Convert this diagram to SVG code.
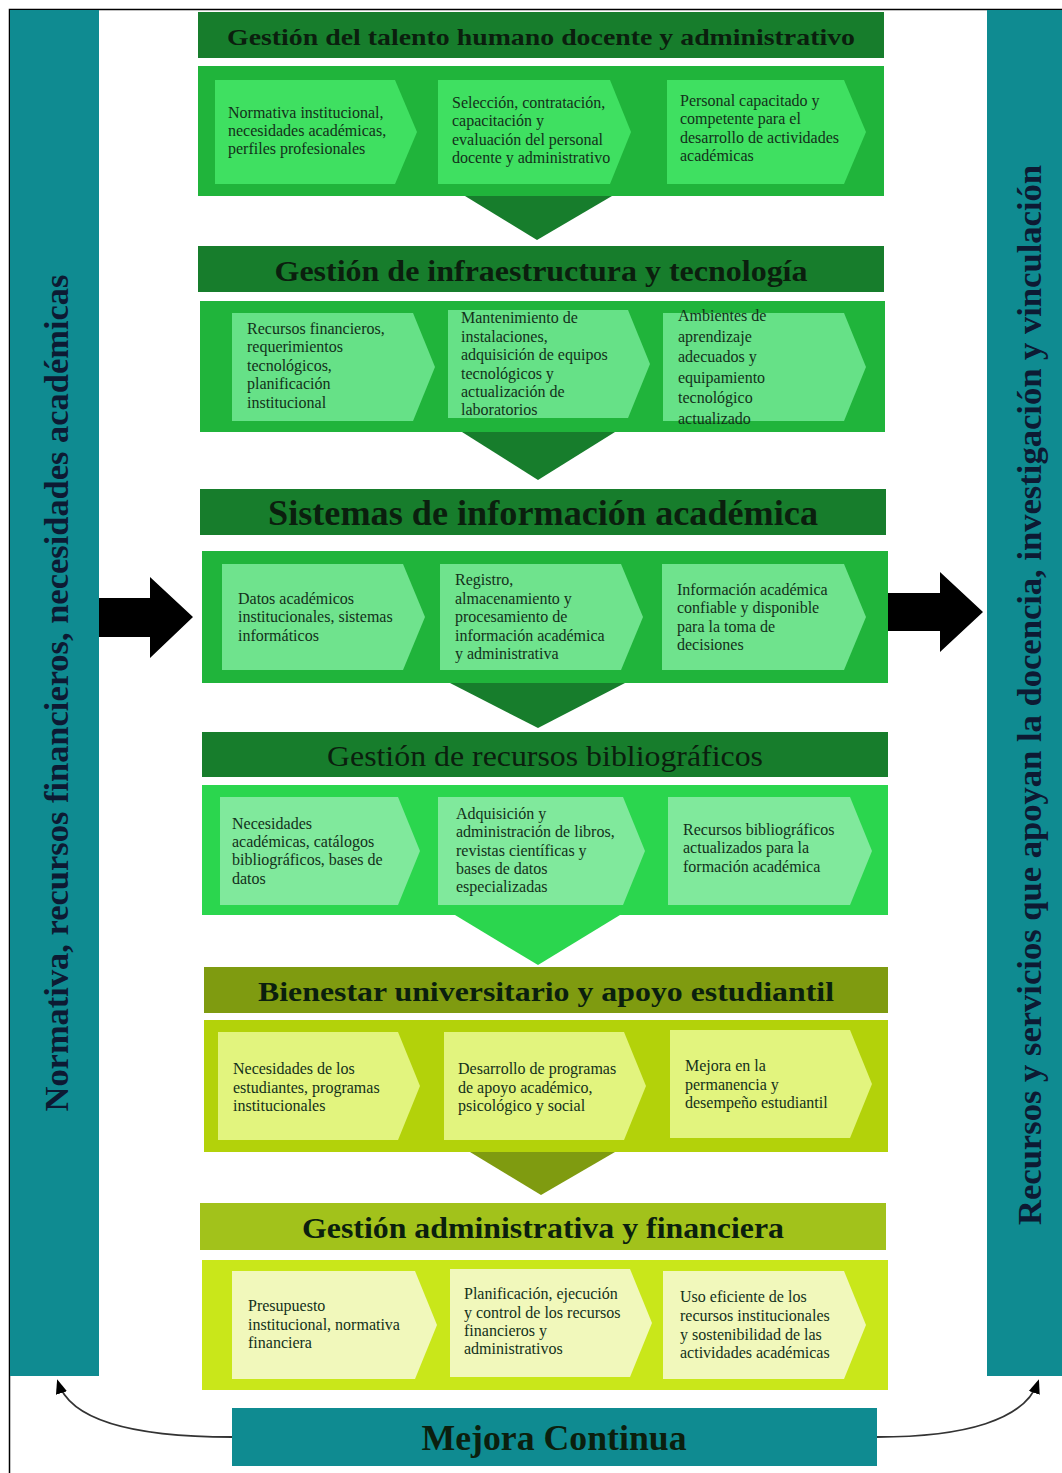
<svg xmlns="http://www.w3.org/2000/svg" width="1062" height="1473" viewBox="0 0 1062 1473">
<defs>
<style>
.ttl{font-family:"Liberation Serif","Times New Roman",serif;font-weight:bold;fill:#0b1f0e;text-anchor:middle}
.ct{font-family:"Liberation Serif","Times New Roman",serif;font-size:16px;fill:#13301a}
.side{font-family:"Liberation Serif","Times New Roman",serif;font-weight:bold;font-size:33px;fill:#0d1a33;text-anchor:middle}
.teal{fill:#0f8b91}
.g1t{fill:#177d2c}.g1b{fill:#20b43b}.g1c{fill:#3fe061}
.g2c{fill:#66e187}
.g3c{fill:#6fe38d}
.g4b{fill:#2bd64e}.g4c{fill:#80e99c}
.y5t{fill:#7f9b10}.y5b{fill:#b3d20a}.y5c{fill:#e2f47e}
.y6t{fill:#a2c21b}.y6b{fill:#c9e71a}.y6c{fill:#f1f8bb}
</style>
<marker id="ah" viewBox="0 0 10 10" refX="8" refY="5" markerWidth="8" markerHeight="8" orient="auto-start-reverse">
<path d="M0,1 L10,5 L0,9 z" fill="#000"/>
</marker>
</defs>
<rect x="0" y="0" width="1062" height="1473" fill="#fff"/>
<rect x="9.5" y="9.5" width="1060" height="1470" fill="none" stroke="#000" stroke-width="1.5"/>

<g id="left-bar">
<rect class="teal" x="10" y="10" width="89" height="1366"/>
<text class="side" transform="translate(68,693) rotate(-90)" textLength="837" lengthAdjust="spacingAndGlyphs">Normativa, recursos financieros, necesidades académicas</text>
</g>
<g id="right-bar">
<rect class="teal" x="987" y="10" width="75" height="1366"/>
<text class="side" transform="translate(1041,695) rotate(-90)" textLength="1060" lengthAdjust="spacingAndGlyphs">Recursos y servicios que apoyan la docencia, investigación y vinculación</text>
</g>

<g id="sec1">
<rect class="g1t" x="198" y="12" width="686" height="46"/>
<text class="ttl" x="541" y="45" font-size="24" textLength="628" lengthAdjust="spacingAndGlyphs">Gestión del talento humano docente y administrativo</text>
<rect class="g1b" x="198" y="66" width="686" height="130"/>
<polygon class="g1c" points="215,80 395,80 417,132 395,184 215,184"/>
<polygon class="g1c" points="438,80 610,80 631,132 610,184 438,184"/>
<polygon class="g1c" points="667,80 844,80 866,132 844,184 667,184"/>
<text class="ct" x="228" y="118">Normativa institucional,</text>
<text class="ct" x="228" y="136">necesidades académicas,</text>
<text class="ct" x="228" y="154">perfiles profesionales</text>
<text class="ct" x="452" y="108">Selección, contratación,</text>
<text class="ct" x="452" y="126">capacitación y</text>
<text class="ct" x="452" y="145">evaluación del personal</text>
<text class="ct" x="452" y="163">docente y administrativo</text>
<text class="ct" x="680" y="106">Personal capacitado y</text>
<text class="ct" x="680" y="124">competente para el</text>
<text class="ct" x="680" y="143">desarrollo de actividades</text>
<text class="ct" x="680" y="161">académicas</text>
</g>

<g id="sec2">
<rect class="g1t" x="198" y="246" width="686" height="46"/>
<text class="ttl" x="541" y="281" font-size="30" textLength="533" lengthAdjust="spacingAndGlyphs">Gestión de infraestructura y tecnología</text>
<rect class="g1b" x="200" y="301" width="685" height="131"/>
<polygon class="g2c" points="232,313 413,313 435,367 413,421 232,421"/>
<polygon class="g2c" points="448,310 628,310 650,364 628,418 448,418"/>
<polygon class="g2c" points="663,313 844,313 866,367 844,421 663,421"/>
<text class="ct" x="247" y="334">Recursos financieros,</text>
<text class="ct" x="247" y="352">requerimientos</text>
<text class="ct" x="247" y="371">tecnológicos,</text>
<text class="ct" x="247" y="389">planificación</text>
<text class="ct" x="247" y="408">institucional</text>
<text class="ct" x="461" y="323">Mantenimiento de</text>
<text class="ct" x="461" y="342">instalaciones,</text>
<text class="ct" x="461" y="360">adquisición de equipos</text>
<text class="ct" x="461" y="379">tecnológicos y</text>
<text class="ct" x="461" y="397">actualización de</text>
<text class="ct" x="461" y="415">laboratorios</text>
<text class="ct" x="678" y="321">Ambientes  de</text>
<text class="ct" x="678" y="342">aprendizaje</text>
<text class="ct" x="678" y="362">adecuados y</text>
<text class="ct" x="678" y="383">equipamiento</text>
<text class="ct" x="678" y="403">tecnológico</text>
<text class="ct" x="678" y="424">actualizado</text>
</g>

<g id="sec3">
<rect class="g1t" x="200" y="489" width="686" height="46"/>
<text class="ttl" x="543" y="525" font-size="35" textLength="550" lengthAdjust="spacingAndGlyphs">Sistemas de información académica</text>
<rect class="g1b" x="202" y="551" width="686" height="132"/>
<polygon class="g3c" points="222,564 403,564 425,617 403,670 222,670"/>
<polygon class="g3c" points="440,564 621,564 643,617 621,670 440,670"/>
<polygon class="g3c" points="662,564 844,564 866,617 844,670 662,670"/>
<text class="ct" x="238" y="604">Datos académicos</text>
<text class="ct" x="238" y="622">institucionales, sistemas</text>
<text class="ct" x="238" y="641">informáticos</text>
<text class="ct" x="455" y="585">Registro,</text>
<text class="ct" x="455" y="604">almacenamiento y</text>
<text class="ct" x="455" y="622">procesamiento de</text>
<text class="ct" x="455" y="641">información académica</text>
<text class="ct" x="455" y="659">y administrativa</text>
<text class="ct" x="677" y="595">Información académica</text>
<text class="ct" x="677" y="613">confiable y disponible</text>
<text class="ct" x="677" y="632">para la toma de</text>
<text class="ct" x="677" y="650">decisiones</text>
</g>

<g id="sec4">
<rect class="g1t" x="202" y="732" width="686" height="45"/>
<text x="545" y="766" font-family="Liberation Serif, Times New Roman, serif" font-size="30" fill="#0b1f0e" text-anchor="middle" textLength="436" lengthAdjust="spacingAndGlyphs">Gestión de recursos bibliográficos</text>
<rect class="g4b" x="202" y="785" width="686" height="130"/>
<polygon class="g4c" points="220,797 398,797 420,851 398,905 220,905"/>
<polygon class="g4c" points="438,797 623,797 645,851 623,905 438,905"/>
<polygon class="g4c" points="668,797 850,797 872,851 850,905 668,905"/>
<text class="ct" x="232" y="829">Necesidades</text>
<text class="ct" x="232" y="847">académicas, catálogos</text>
<text class="ct" x="232" y="865">bibliográficos, bases de</text>
<text class="ct" x="232" y="884">datos</text>
<text class="ct" x="456" y="819">Adquisición y</text>
<text class="ct" x="456" y="837">administración de libros,</text>
<text class="ct" x="456" y="856">revistas científicas y</text>
<text class="ct" x="456" y="874">bases de datos</text>
<text class="ct" x="456" y="892">especializadas</text>
<text class="ct" x="683" y="835">Recursos bibliográficos</text>
<text class="ct" x="683" y="853">actualizados para la</text>
<text class="ct" x="683" y="872">formación académica</text>
</g>

<g id="sec5">
<rect class="y5t" x="204" y="967" width="684" height="46"/>
<text class="ttl" x="546" y="1001" font-size="28" textLength="576" lengthAdjust="spacingAndGlyphs">Bienestar universitario y apoyo estudiantil</text>
<rect class="y5b" x="204" y="1020" width="684" height="132"/>
<polygon class="y5c" points="218,1032 398,1032 420,1086 398,1140 218,1140"/>
<polygon class="y5c" points="444,1032 624,1032 646,1086 624,1140 444,1140"/>
<polygon class="y5c" points="670,1030 850,1030 872,1084 850,1138 670,1138"/>
<text class="ct" x="233" y="1074">Necesidades de los</text>
<text class="ct" x="233" y="1093">estudiantes, programas</text>
<text class="ct" x="233" y="1111">institucionales</text>
<text class="ct" x="458" y="1074">Desarrollo de programas</text>
<text class="ct" x="458" y="1093">de apoyo académico,</text>
<text class="ct" x="458" y="1111">psicológico y social</text>
<text class="ct" x="685" y="1071">Mejora en la</text>
<text class="ct" x="685" y="1090">permanencia y</text>
<text class="ct" x="685" y="1108">desempeño estudiantil</text>
</g>

<g id="sec6">
<rect class="y6t" x="200" y="1203" width="686" height="47"/>
<text class="ttl" x="543" y="1238" font-size="29" textLength="482" lengthAdjust="spacingAndGlyphs">Gestión administrativa y financiera</text>
<rect class="y6b" x="202" y="1260" width="686" height="130"/>
<polygon class="y6c" points="232,1271 415,1271 437,1325 415,1379 232,1379"/>
<polygon class="y6c" points="450,1269 630,1269 652,1323 630,1377 450,1377"/>
<polygon class="y6c" points="663,1271 844,1271 866,1325 844,1379 663,1379"/>
<text class="ct" x="248" y="1311">Presupuesto</text>
<text class="ct" x="248" y="1330">institucional, normativa</text>
<text class="ct" x="248" y="1348">financiera</text>
<text class="ct" x="464" y="1299">Planificación, ejecución</text>
<text class="ct" x="464" y="1318">y control de los recursos</text>
<text class="ct" x="464" y="1336">financieros y</text>
<text class="ct" x="464" y="1354">administrativos</text>
<text class="ct" x="680" y="1302">Uso eficiente de los</text>
<text class="ct" x="680" y="1321">recursos institucionales</text>
<text class="ct" x="680" y="1340">y sostenibilidad de las</text>
<text class="ct" x="680" y="1358">actividades académicas</text>
</g>

<g id="mejora">
<rect class="teal" x="232" y="1408" width="645" height="58"/>
<text class="ttl" x="554" y="1450" font-size="36" textLength="265" lengthAdjust="spacingAndGlyphs">Mejora Continua</text>
</g>

<g id="connectors">
<polygon class="g1t" points="465,196 612,196 537,240"/>
<polygon class="g1t" points="462,432 615,432 538,480"/>
<polygon class="g1t" points="450,683 625,683 538,728"/>
<polygon class="g4b" points="455,915 620,915 538,965"/>
<polygon class="y5t" points="470,1152 615,1152 541,1195"/>
<polygon fill="#000" points="99,598 150,598 150,577 193,617 150,658 150,637 99,637"/>
<polygon fill="#000" points="888,593 940,593 940,572 983,612 940,652 940,631 888,631"/>
<path d="M232,1437 C130,1437 70,1420 58,1382" fill="none" stroke="#333" stroke-width="1.8" marker-end="url(#ah)"/>
<path d="M877,1437 C965,1437 1025,1420 1038,1382" fill="none" stroke="#333" stroke-width="1.8" marker-end="url(#ah)"/>
</g>
</svg>
